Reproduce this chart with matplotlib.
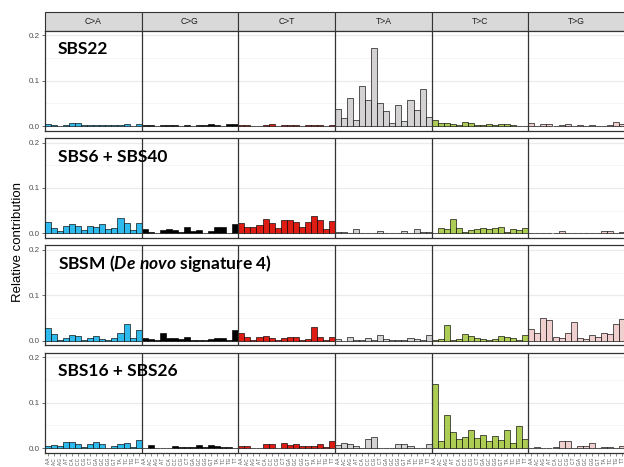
import matplotlib
matplotlib.use('Agg')
import matplotlib.pyplot as plt
import numpy as np
from matplotlib.patches import Rectangle

plt.rcParams['font.family'] = ['Liberation Sans', 'DejaVu Sans']
plt.rcParams['mathtext.fontset'] = 'custom'
plt.rcParams['mathtext.rm'] = 'Lato:bold'
plt.rcParams['mathtext.it'] = 'Lato:italic:bold'

mut_types = ['C>A', 'C>G', 'C>T', 'T>A', 'T>C', 'T>G']
type_colors = ['#2EBAED', '#000000', '#DE1C14', '#D4D2D2', '#ADCC54', '#F0D0CE']
bases = ['A', 'C', 'G', 'T']
contexts = [a + '.' + b for a in bases for b in bases]

# relative contribution, 16 contexts per mutation type (C>A, C>G, C>T, T>A, T>C, T>G)
sbs22 = [0.004, 0.003, 0.001, 0.002, 0.007, 0.008, 0.002, 0.002, 0.003, 0.002, 0.002, 0.002, 0.003, 0.005, 0.001, 0.005,
         0.003, 0.002, 0.001, 0.002, 0.002, 0.003, 0.001, 0.002, 0.001, 0.002, 0.002, 0.004, 0.002, 0.001, 0.005, 0.004,
         0.003, 0.002, 0.001, 0.001, 0.003, 0.005, 0.001, 0.002, 0.002, 0.003, 0.001, 0.002, 0.002, 0.003, 0.001, 0.002,
         0.038, 0.017, 0.061, 0.014, 0.089, 0.057, 0.172, 0.050, 0.033, 0.008, 0.046, 0.012, 0.057, 0.036, 0.081, 0.020,
         0.013, 0.006, 0.006, 0.004, 0.002, 0.009, 0.006, 0.002, 0.003, 0.004, 0.002, 0.004, 0.004, 0.002, 0.001, 0.001,
         0.007, 0.001, 0.005, 0.004, 0.001, 0.002, 0.005, 0.001, 0.002, 0.001, 0.002, 0.001, 0.001, 0.002, 0.009, 0.004]

sbs6_40 = [0.026, 0.013, 0.006, 0.017, 0.020, 0.017, 0.007, 0.017, 0.015, 0.020, 0.009, 0.013, 0.034, 0.023, 0.007, 0.024,
           0.010, 0.004, 0.001, 0.008, 0.010, 0.008, 0.003, 0.014, 0.005, 0.007, 0.002, 0.006, 0.014, 0.015, 0.001, 0.021,
           0.024, 0.015, 0.015, 0.019, 0.032, 0.023, 0.012, 0.030, 0.029, 0.026, 0.015, 0.026, 0.038, 0.030, 0.010, 0.027,
           0.003, 0.003, 0.002, 0.010, 0.001, 0.002, 0.002, 0.006, 0.001, 0.002, 0.001, 0.006, 0.001, 0.009, 0.004, 0.004,
           0.001, 0.012, 0.010, 0.031, 0.011, 0.004, 0.007, 0.009, 0.013, 0.009, 0.011, 0.015, 0.003, 0.009, 0.007, 0.011,
           0.001, 0.001, 0.001, 0.001, 0.002, 0.006, 0.002, 0.001, 0.001, 0.002, 0.002, 0.001, 0.005, 0.005, 0.001, 0.004]

sbsm = [0.029, 0.015, 0.001, 0.005, 0.013, 0.011, 0.002, 0.005, 0.010, 0.004, 0.002, 0.007, 0.018, 0.036, 0.005, 0.024,
        0.006, 0.004, 0.001, 0.017, 0.007, 0.005, 0.004, 0.009, 0.002, 0.001, 0.001, 0.003, 0.005, 0.005, 0.001, 0.023,
        0.017, 0.008, 0.002, 0.009, 0.010, 0.007, 0.002, 0.007, 0.009, 0.009, 0.002, 0.004, 0.031, 0.009, 0.002, 0.008,
        0.004, 0.000, 0.009, 0.001, 0.001, 0.005, 0.001, 0.012, 0.004, 0.002, 0.001, 0.002, 0.006, 0.004, 0.001, 0.013,
        0.001, 0.004, 0.034, 0.001, 0.003, 0.015, 0.010, 0.005, 0.003, 0.001, 0.004, 0.010, 0.009, 0.006, 0.001, 0.012,
        0.026, 0.016, 0.050, 0.046, 0.009, 0.007, 0.017, 0.041, 0.007, 0.004, 0.012, 0.009, 0.018, 0.015, 0.036, 0.047]

sbs16_26 = [0.004, 0.006, 0.005, 0.013, 0.013, 0.008, 0.002, 0.010, 0.014, 0.008, 0.001, 0.005, 0.008, 0.012, 0.003, 0.018,
            0.001, 0.006, 0.001, 0.000, 0.001, 0.004, 0.003, 0.003, 0.002, 0.007, 0.002, 0.006, 0.004, 0.003, 0.002, 0.001,
            0.004, 0.004, 0.000, 0.000, 0.010, 0.010, 0.001, 0.011, 0.007, 0.010, 0.004, 0.005, 0.004, 0.009, 0.002, 0.015,
            0.007, 0.012, 0.008, 0.004, 0.001, 0.019, 0.025, 0.001, 0.001, 0.000, 0.010, 0.010, 0.004, 0.001, 0.001, 0.010,
            0.140, 0.015, 0.073, 0.036, 0.021, 0.025, 0.040, 0.023, 0.029, 0.016, 0.026, 0.018, 0.040, 0.012, 0.049, 0.020,
            0.001, 0.002, 0.000, 0.001, 0.002, 0.015, 0.015, 0.001, 0.004, 0.004, 0.012, 0.001, 0.002, 0.002, 0.001, 0.004]

signatures = [sbs22, sbs6_40, sbsm, sbs16_26]
titles = ['SBS22', 'SBS6 + SBS40', r'SBSM ($\mathit{De\ novo}$ signature 4)', 'SBS16 + SBS26']

W, H = 624, 467
fig = plt.figure(figsize=(W / 100, H / 100), dpi=100)

left = 45 / W
width = 580 / W
bar_colors = [c for c in type_colors for _ in range(16)]
xpos = np.arange(96)

# facet strip on top
strip = fig.add_axes([left, 1 - 30.7 / H, width, 19 / H])
strip.set_xlim(-0.5, 95.5)
strip.set_ylim(0, 1)
strip.axis('off')
for i, m in enumerate(mut_types):
    strip.add_patch(Rectangle((i * 16 - 0.5, 0), 16, 1, facecolor='#D9D9D9',
                              edgecolor='#333333', lw=0.8, clip_on=False))
    strip.text(i * 16 + 7.5, 0.5, m, ha='center', va='center', fontsize=6.2, color='#1A1A1A')

for r, (vals, title) in enumerate(zip(signatures, titles)):
    top = 30.7 + 107.3 * r
    ax = fig.add_axes([left, 1 - (top + 100) / H, width, 100 / H])
    ax.bar(xpos, vals, width=1, color=bar_colors, edgecolor='black', linewidth=0.45, zorder=3)
    ax.set_xlim(-0.5, 95.5)
    ax.set_ylim(-0.01, 0.21)
    ax.set_yticks([0, 0.1, 0.2])
    ax.set_yticklabels(['0.0', '0.1', '0.2'])
    ax.set_yticks([0.05, 0.15], minor=True)
    ax.grid(axis='y', which='major', color='#EBEBEB', lw=0.9, zorder=0)
    ax.grid(axis='y', which='minor', color='#F4F4F4', lw=0.6, zorder=0)
    ax.tick_params(axis='y', which='minor', length=0)
    ax.tick_params(axis='y', which='major', length=2.5, width=0.5, color='#333333',
                   labelsize=5.8, labelcolor='#4D4D4D', pad=1.5)
    for b in range(1, 6):
        ax.axvline(b * 16 - 0.5, color='#333333', lw=0.9, zorder=4)
    for s in ax.spines.values():
        s.set_color('#333333')
        s.set_linewidth(0.9)
    if r == 3:
        ax.set_xticks(xpos)
        ax.set_xticklabels(contexts * 6, rotation=90, fontsize=3.3, color='#4D4D4D')
        ax.tick_params(axis='x', length=2, width=0.4, color='#333333', pad=1)
    else:
        ax.set_xticks([])
    ax.text(13 / 580, 0.765, title, transform=ax.transAxes, fontsize=12.5,
            fontfamily='Lato', fontweight='bold', va='baseline', ha='left', zorder=5)

fig.text(18 / W, 1 - 242 / H, 'Relative contribution', rotation=90,
         ha='center', va='center', fontsize=9.5)

plt.savefig('out.png', dpi=100)
